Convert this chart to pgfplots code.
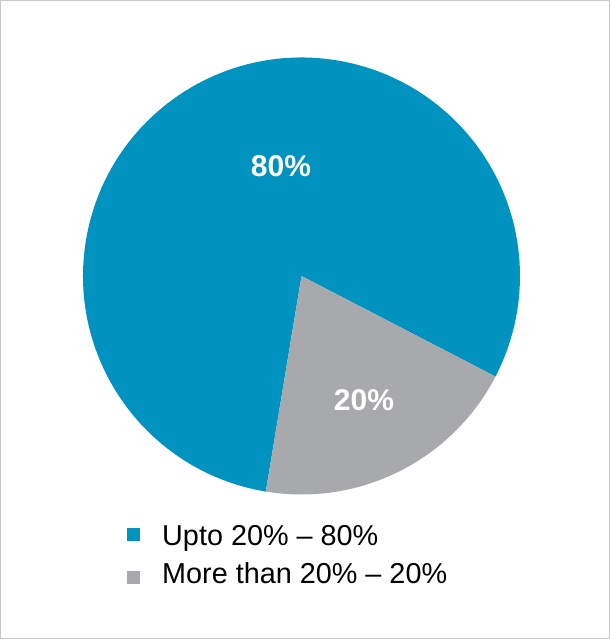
\documentclass[border=0pt]{standalone}
\usepackage{pgfplots}
\usepackage{pgfplotstable}
\pgfplotsset{compat=1.18}
\usepackage{fontspec}
\setmainfont{Liberation Sans}
\definecolor{piebl}{RGB}{0,147,192}
\definecolor{piegr}{RGB}{168,169,173}
\definecolor{frame}{RGB}{200,200,200}
\pgfplotstableread{
value
80
20
}\piedata
\begin{document}
\begin{tikzpicture}
\pgfplotstablegetelem{0}{value}\of\piedata \pgfmathsetmacro\va{\pgfplotsretval}
\pgfplotstablegetelem{1}{value}\of\piedata \pgfmathsetmacro\vb{\pgfplotsretval}
\pgfmathsetmacro\astart{-99.4}
\pgfmathsetmacro\amid{\astart-3.6*\va}
\pgfmathsetmacro\aend{\amid-3.6*\vb}
\begin{axis}[scale only axis, width=610pt, height=639pt,
  xmin=0, xmax=610, ymin=0, ymax=639, hide axis, clip=false]
\draw[frame, line width=1pt] (axis cs:0.5,0.5) rectangle (axis cs:609.5,638.5);
\fill[piebl] (axis cs:301.5,363) -- ++(\astart:218.5pt) arc[start angle=\astart, end angle=\amid, radius=218.5pt] -- cycle;
\fill[piegr] (axis cs:301.5,363) -- ++(\amid:218.5pt) arc[start angle=\amid, end angle=\aend, radius=218.5pt] -- cycle;
\node[font=\bfseries\fontsize{30}{36}\selectfont, text=white, anchor=base, inner sep=0pt] at (axis cs:281,462) {80\%};
\node[font=\bfseries\fontsize{30}{36}\selectfont, text=white, anchor=base, inner sep=0pt] at (axis cs:364,228) {20\%};
\fill[piebl] (axis cs:127,98) rectangle (axis cs:140,111);
\fill[piegr] (axis cs:127,55) rectangle (axis cs:140,68);
\node[font=\fontsize{28.8}{34}\selectfont, anchor=base west, inner sep=0pt] at (axis cs:162,93) {Upto 20\% -- 80\%};
\node[font=\fontsize{28.8}{34}\selectfont, anchor=base west, inner sep=0pt] at (axis cs:162,55) {More than 20\% -- 20\%};
\end{axis}
\end{tikzpicture}
\end{document}
